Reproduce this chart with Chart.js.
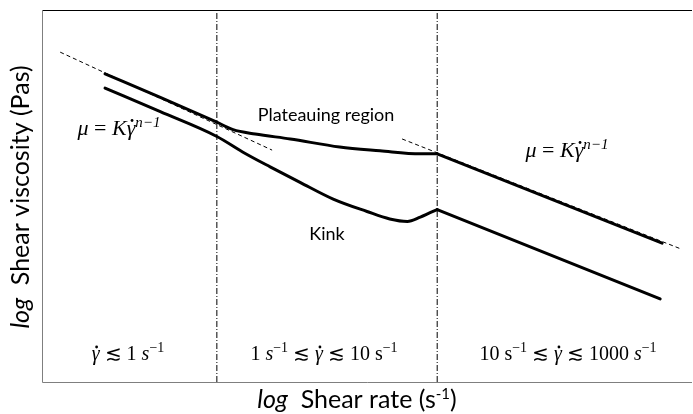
<!DOCTYPE html>
<html>
<head>
<meta charset="utf-8">
<script src="https://cdn.jsdelivr.net/npm/chart.js@4/dist/chart.umd.min.js"></script>
<style>
  body { margin: 0; background: #fff; }
</style>
</head>
<body>
<canvas id="grafico" width="693" height="414"></canvas>
<script>
// eixos em unidades esquemáticas: x = log taxa de cisalhamento, y = log viscosidade
const limitesRegiao = [2.69, 6.08]; // 1 s^-1 e 10 s^-1

// curva de cima (região com platô)
const superiorX = [0.97, 1.82, 2.69, 2.94, 3.28, 3.82, 4.58, 5.20, 5.82, 6.08];
const superiorY = [4.97, 4.59, 4.19, 4.07, 4.00, 3.92, 3.79, 3.73, 3.68, 3.68];
const superiorFinalX = [6.08, 9.54];
const superiorFinalY = [3.68, 2.24];

// curva de baixo (com o "kink")
const inferiorX = [0.97, 1.82, 2.69, 3.12, 3.51, 3.97, 4.48, 5.00, 5.35, 5.62, 5.82, 5.97, 6.08];
const inferiorY = [4.74, 4.36, 3.96, 3.69, 3.47, 3.22, 2.95, 2.75, 2.63, 2.59, 2.66, 2.73, 2.78];
const inferiorFinalX = [6.08, 9.51];
const inferiorFinalY = [2.78, 1.34];

// retas da lei de potência (tracejadas)
const potencia1X = [0.28, 3.54];
const potencia1Y = [5.32, 3.74];
const potencia2X = [5.54, 9.82];
const potencia2Y = [3.92, 2.15];

// junta os arrays x e y em pontos {x, y}
function pontos(xs, ys) {
    return xs.map((x, i) => ({ x: x, y: ys[i] }));
}

function curva(xs, ys, suave) {
    return {
        data: pontos(xs, ys),
        borderColor: '#000',
        borderWidth: 3,
        borderCapStyle: 'round',
        borderJoinStyle: 'round',
        cubicInterpolationMode: suave ? 'monotone' : 'default',
        tension: 0,
        pointRadius: 0,
        order: 0
    };
}

function tracejada(xs, ys) {
    return {
        data: pontos(xs, ys),
        borderColor: '#000',
        borderWidth: 1,
        borderDash: [4, 3],
        pointRadius: 0,
        order: 1
    };
}

function divisoria(x) {
    return {
        data: [{ x: x, y: 0 }, { x: x, y: 6 }],
        borderColor: '#000',
        borderWidth: 1,
        borderDash: [6, 2, 1, 2],
        pointRadius: 0,
        order: 2
    };
}

// escreve um texto feito de pedaços com fontes diferentes (itálico, sobrescrito...)
function escreve(ctx, partes, x, y, alinhamento) {
    let total = 0;
    partes.forEach(p => { ctx.font = p.fonte; p.largura = ctx.measureText(p.t).width; total += p.largura; });
    let cx = alinhamento === 'center' ? x - total / 2 : x;
    partes.forEach(p => {
        ctx.font = p.fonte;
        ctx.fillText(p.t, cx, y + (p.dy || 0));
        if (p.ponto) { // ponto em cima do gama
            ctx.beginPath();
            ctx.arc(cx + p.largura * 0.62, y - p.ponto, 1.4, 0, Math.PI * 2);
            ctx.fill();
        }
        cx += p.largura;
    });
}

const serif = '"Liberation Serif"';
const it = 'italic 20px ' + serif;
const rm = '20px ' + serif;
const supRm = '14px ' + serif;
const gama = { t: 'γ', fonte: it, ponto: 13 };
const formula = [
    { t: 'μ', fonte: 'italic 22px ' + serif }, { t: ' = ', fonte: '22px ' + serif },
    { t: 'K', fonte: 'italic 22px ' + serif }, { t: 'γ', fonte: 'italic 22px ' + serif, ponto: 14.5 },
    { t: 'n−1', fonte: 'italic 15px ' + serif, dy: -8 }
];

const textos = {
    id: 'textos',
    afterDraw(chart) {
        const ctx = chart.ctx;
        const a = chart.chartArea;
        ctx.save();

        // moldura
        ctx.lineWidth = 1;
        ctx.strokeStyle = '#000';
        ctx.beginPath();
        ctx.moveTo(a.left, a.top + 0.5);
        ctx.lineTo(a.right, a.top + 0.5);
        ctx.stroke();
        ctx.strokeStyle = '#7f7f7f';
        ctx.beginPath();
        ctx.moveTo(a.left + 0.5, a.top);
        ctx.lineTo(a.left + 0.5, a.bottom + 0.5);
        ctx.lineTo(a.right, a.bottom + 0.5);
        ctx.stroke();

        ctx.fillStyle = '#000';
        ctx.textBaseline = 'alphabetic';

        // anotações
        escreve(ctx, [{ t: 'Plateauing region', fonte: '18px Lato' }], 326, 121, 'center');
        escreve(ctx, [{ t: 'Kink', fonte: '18px Lato' }], 327, 240, 'center');
        escreve(ctx, formula, 119, 135, 'center');
        escreve(ctx, formula, 567, 157, 'center');

        // faixas de taxa de cisalhamento
        escreve(ctx, [
            gama, { t: ' ≲ 1 ', fonte: rm }, { t: 's', fonte: it }, { t: '−1', fonte: supRm, dy: -8 }
        ], 128, 360, 'center');
        escreve(ctx, [
            { t: '1 ', fonte: rm }, { t: 's', fonte: it }, { t: '−1', fonte: supRm, dy: -8 },
            { t: ' ≲ ', fonte: rm }, gama, { t: ' ≲ 10 s', fonte: rm }, { t: '−1', fonte: supRm, dy: -8 }
        ], 324, 360, 'center');
        escreve(ctx, [
            { t: '10 s', fonte: rm }, { t: '−1', fonte: supRm, dy: -8 },
            { t: ' ≲ ', fonte: rm }, gama, { t: ' ≲ 1000 ', fonte: rm }, { t: 's', fonte: it }, { t: '−1', fonte: supRm, dy: -8 }
        ], 568, 360, 'center');

        // títulos dos eixos
        escreve(ctx, [
            { t: 'log', fonte: 'italic 25px Lato' }, { t: '  Shear rate (s', fonte: '25px Lato' },
            { t: '-1', fonte: '15px Lato', dy: -9 }, { t: ')', fonte: '25px Lato' }
        ], 357, 408, 'center');
        ctx.translate(29, 197);
        ctx.rotate(-Math.PI / 2);
        escreve(ctx, [
            { t: 'log', fonte: 'italic 25px Lato' }, { t: '  Shear viscosity (Pas)', fonte: '25px Lato' }
        ], 0, 0, 'center');

        ctx.restore();
    }
};

const config = {
    type: 'line',
    data: {
        datasets: [
            curva(superiorX, superiorY, true),
            curva(superiorFinalX, superiorFinalY, false),
            curva(inferiorX, inferiorY, true),
            curva(inferiorFinalX, inferiorFinalY, false),
            tracejada(potencia1X, potencia1Y),
            tracejada(potencia2X, potencia2Y),
            divisoria(limitesRegiao[0]),
            divisoria(limitesRegiao[1])
        ]
    },
    options: {
        responsive: false,
        animation: false,
        layout: { padding: { left: 42, top: 10, right: 1, bottom: 32 } },
        scales: {
            x: { type: 'linear', min: 0, max: 10, display: false },
            y: { type: 'linear', min: 0, max: 6, display: false }
        },
        plugins: {
            legend: { display: false },
            tooltip: { enabled: false }
        }
    },
    plugins: [textos]
};

new Chart(document.getElementById('grafico'), config);
</script>
</body>
</html>
